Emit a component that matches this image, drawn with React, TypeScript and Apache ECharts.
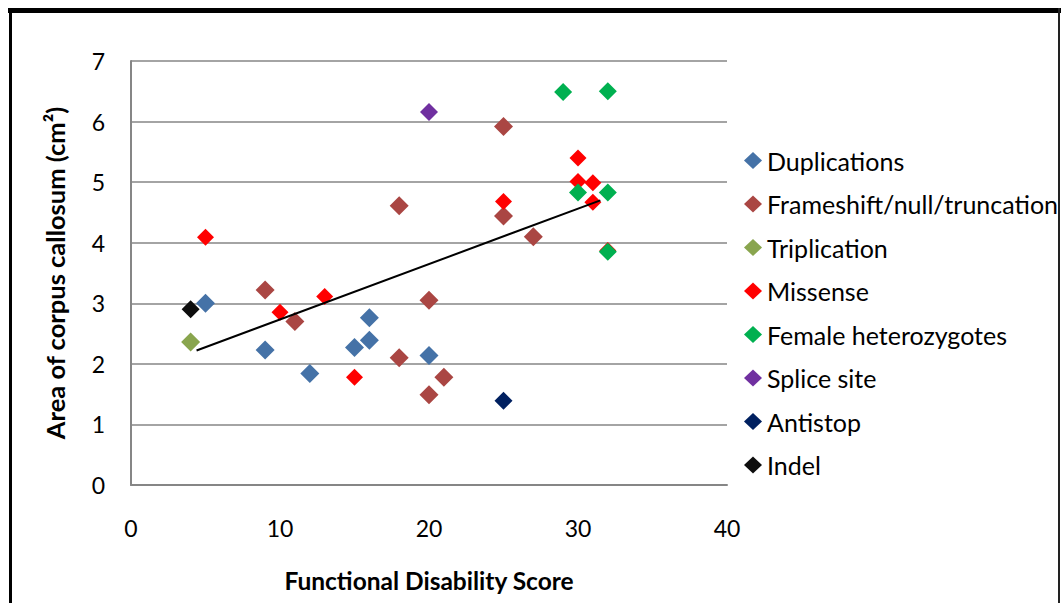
import React, { useEffect, useRef } from "react";
import * as echarts from "echarts";

const seriesNames = [
  "Duplications",
  "Frameshift/null/truncation",
  "Triplication",
  "Missense",
  "Female heterozygotes",
  "Splice site",
  "Antistop",
  "Indel",
];

const duplications = [
  [5, 3.0], [9, 2.23], [12, 1.84], [15, 2.27], [16, 2.76], [16, 2.39], [20, 2.14],
];
const frameshift = [
  [9, 3.22], [11, 2.7], [18, 4.61], [18, 2.1], [20, 3.05], [20, 1.49], [21, 1.78],
  [25, 5.92], [25, 4.44], [27, 4.1],
];
const triplication = [[4, 2.36]];
const missense = [
  [5, 4.09], [10, 2.85], [13, 3.11], [15, 1.78], [25, 4.68], [30, 5.4], [30, 5.01],
  [31, 4.99], [31, 4.67], [32, 3.87],
];
const female = [[29, 6.49], [32, 6.5], [30, 4.83], [32, 4.83], [32, 3.85]];
const splice = [[20, 6.16]];
const antistop = [[25, 1.39]];
const indel = [[4, 2.9]];

const trendline = [[4.4, 2.22], [31.5, 4.7]];

const xTicks = [0, 10, 20, 30, 40];
const yTicks = [0, 1, 2, 3, 4, 5, 6, 7];

const colors = ["#4572A7", "#AA4643", "#89A54E", "#FF0000", "#00B050", "#7030A0", "#002060", "#0D0D0D"];
const sizes = [19, 19, 19, 17, 18, 18, 18, 18];
const allData = [duplications, frameshift, triplication, missense, female, splice, antistop, indel];

const FONT = "Lato";

export default function App() {
  const ref = useRef<HTMLDivElement>(null);
  useEffect(() => {
    if (!ref.current) return;
    const chart = echarts.init(ref.current, null, { renderer: "svg" });
    const scatter = seriesNames.map((name, i) => ({
      name,
      type: "scatter",
      symbol: "diamond",
      symbolSize: sizes[i],
      itemStyle: { color: colors[i], opacity: 1 },
      data: allData[i],
      z: 2 + i * 0.01,
      emphasis: { disabled: true },
    }));
    chart.setOption({
      animation: false,
      backgroundColor: "#ffffff",
      textStyle: { fontFamily: FONT },
      grid: { left: 131, right: 336, top: 61, bottom: 118, containLabel: false },
      legend: {
        orient: "vertical",
        left: 744,
        top: 148,
        padding: 0,
        itemWidth: 18,
        itemHeight: 17,
        itemGap: 18.5,
        data: seriesNames.map((n) => ({ name: n, icon: "diamond" })),
        textStyle: { fontFamily: FONT, fontSize: 25, color: "#000" },
        selectedMode: false,
      },
      xAxis: {
        type: "value",
        min: xTicks[0],
        max: xTicks[xTicks.length - 1],
        interval: 10,
        name: "Functional Disability Score",
        nameLocation: "middle",
        nameGap: 83,
        nameTextStyle: { fontFamily: FONT, fontWeight: "bold", fontSize: 24.5, color: "#000" },
        axisLine: { show: true, lineStyle: { color: "#868686", width: 2 } },
        axisTick: { show: false },
        splitLine: { show: false },
        axisLabel: { margin: 31, fontFamily: FONT, fontSize: 23, color: "#000" },
      },
      yAxis: {
        type: "value",
        min: yTicks[0],
        max: yTicks[yTicks.length - 1],
        interval: 1,
        name: "Area of corpus callosum (cm²)",
        nameLocation: "middle",
        nameGap: 63,
        nameTextStyle: { fontFamily: FONT, fontWeight: "bold", fontSize: 25.5, color: "#000" },
        axisLine: { show: true, lineStyle: { color: "#868686", width: 2 } },
        axisTick: { show: false },
        splitLine: { show: true, lineStyle: { color: "#868686", width: 1.6 } },
        axisLabel: { margin: 26, fontFamily: FONT, fontSize: 23, color: "#000" },
      },
      series: [
        ...scatter,
        {
          name: "trend",
          type: "line",
          data: trendline,
          symbol: "none",
          lineStyle: { color: "#000", width: 2 },
          z: 5,
          silent: true,
        },
      ],
      graphic: [
        { type: "line", shape: { x1: 8, y1: 10.5, x2: 1061, y2: 10.5 }, style: { stroke: "#000", lineWidth: 5 }, z: 100 },
        { type: "line", shape: { x1: 10.5, y1: 8, x2: 10.5, y2: 603 }, style: { stroke: "#000", lineWidth: 3 }, z: 100 },
        { type: "line", shape: { x1: 1059, y1: 8, x2: 1059, y2: 603 }, style: { stroke: "#222", lineWidth: 2 }, z: 100 },
      ],
    });
    return () => chart.dispose();
  }, []);
  return (
    <div
      ref={ref}
      style={{ position: "fixed", left: 0, top: 0, width: 1063, height: 603, background: "#fff" }}
    />
  );
}
